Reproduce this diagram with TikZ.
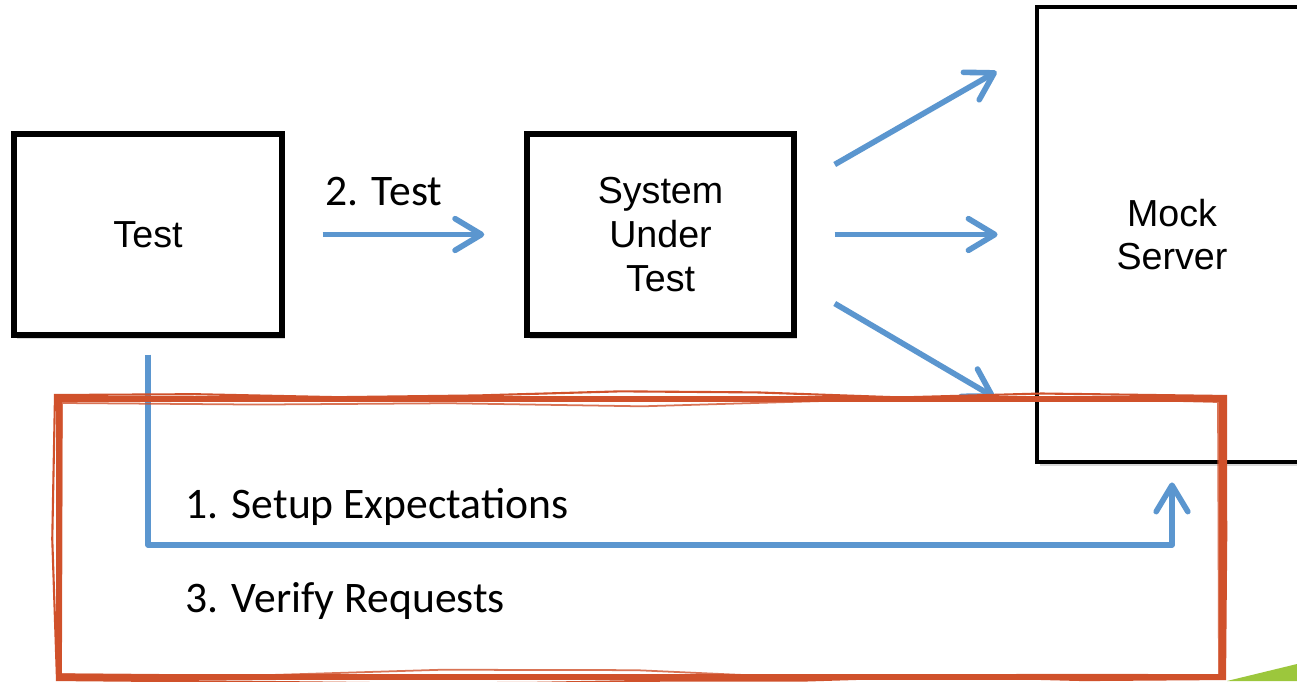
\documentclass[tikz,border=0pt]{standalone}
\usepackage{fontspec}
\setmainfont{Carlito}
\newfontfamily\boxfont{Liberation Sans}
\usetikzlibrary{arrows.meta,shadows,decorations.pathmorphing}

\definecolor{flowblue}{HTML}{5B96CF}
\definecolor{markred}{HTML}{D0512B}
\definecolor{cornergreen}{HTML}{9CC73C}

\tikzset{
	unitbox/.style={draw=black, line width=1.5pt, fill=white, inner sep=0pt, align=center,
		font=\boxfont\fontsize{10.7pt}{12.4pt}\selectfont,
		drop shadow={opacity=0.3, shadow xshift=0.8pt, shadow yshift=-1.2pt}},
	flow/.style={draw=flowblue, line width=1.6pt, -{Straight Barb[length=7.5pt,width=9pt,round]}},
	steplabel/.style={anchor=base west, inner sep=0pt, font=\fontsize{12.4pt}{14pt}\selectfont},
}

\begin{document}
\begin{tikzpicture}[x=0.01cm, y=0.01cm]
		%%%%% START %%%%%
		\clip (0, 0) rectangle (1297, 681);
		\fill[white] (0, 0) rectangle (1297, 681);

		\node[unitbox, minimum width=2.68cm, minimum height=2.01cm] (test) at (148, 446.5) {Test};
		\node[unitbox, minimum width=2.67cm, minimum height=2.01cm] (sut) at (660.5, 446.5) {System\\Under\\Test};
		\node[unitbox, line width=1.3pt, minimum width=2.70cm, minimum height=4.55cm] (mock) at (1172, 446.5) {Mock\\Server};

		\draw[flow, shorten <=0.38cm, shorten >=0.40cm] (test.east) -- (sut.west);
		\node[steplabel] (testlabel) at (325, 476) {2. Test};

		\draw[flow] ([shift={(38, 70)}]sut.east) -- ([shift={(-38, 163)}]mock.west);
		\draw[flow, shorten <=0.38cm, shorten >=0.37cm] (sut.east) -- (mock.west);
		\draw[flow] ([shift={(38, -69)}]sut.east) -- ([shift={(-40, -163)}]mock.west);

		\coordinate (loopbase) at (660, 136);
		\draw[flow, line join=round, shorten <=0.17cm, shorten >=0.18cm] (test.south) |- (loopbase) -| (mock.south);
		\node[steplabel] (setuplabel) at (185, 163) {1. Setup Expectations};
		\node[steplabel] (verifylabel) at (185, 69) {3. Verify Requests};

		% hand drawn frame
		\pgfmathsetseed{7}
		\draw[markred, line width=1.6pt, line join=miter] (59, 282) rectangle (1222, 4);
		\draw[markred, line width=0.6pt, decorate, decoration={random steps, segment length=40, amplitude=1.2}] (55, 286) -- (1226, 285) -- (1225, 2) -- (57, 1) -- cycle;
		\draw[markred, line width=0.5pt, opacity=0.8, decorate, decoration={random steps, segment length=55, amplitude=1.5}] (62, 278) -- (1218, 279) -- (1219, 6) -- (61, 7) -- cycle;

		\fill[cornergreen] (1227, 0) -- (1297, 17) -- (1297, 0) -- cycle;
		%%%%% END %%%%%
	\end{tikzpicture}
\end{document}
